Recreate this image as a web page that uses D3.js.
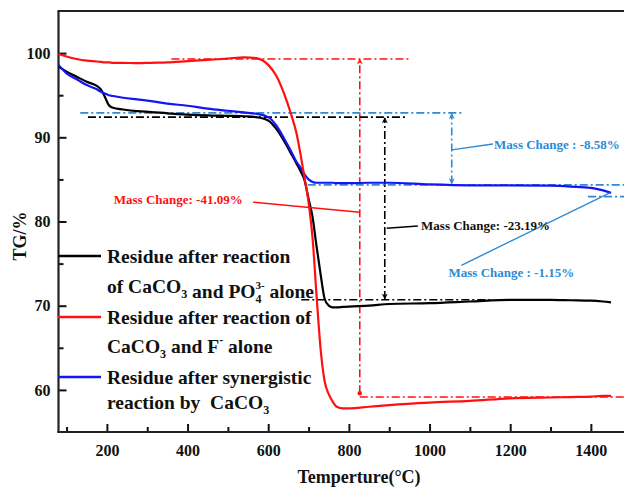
<!DOCTYPE html>
<html>
<head>
<meta charset="utf-8">
<script src="https://cdn.jsdelivr.net/npm/d3@7"></script>
<style>
  body { margin: 0; background: #fff; }
  svg { display: block; }
  text { font-family: "Liberation Serif", "Times New Roman", serif; font-weight: bold; }
</style>
</head>
<body>
<svg id="chart" width="624" height="488"></svg>
<script>
// Temperature grid (°C) shared by the three TG curves
const temperature = [80, 100, 125, 150, 175, 185, 195, 205, 215, 240, 275, 310, 350, 400, 450, 500, 540, 570,
  600, 620, 640, 655, 670, 680, 690, 700, 710, 720, 730, 740, 750, 760, 770, 785, 800, 850, 900, 1000,
  1100, 1200, 1300, 1350, 1400, 1430, 1450];

// TG (%) — residue after reaction of CaCO3 and PO4(3-) alone
const tgPhosphate = [98.4, 97.8, 97.2, 96.6, 96.1, 95.7, 94.8, 93.8, 93.5, 93.3, 93.1, 93.0, 92.85, 92.7, 92.6, 92.55, 92.5, 92.4,
  92.0, 91.0, 89.5, 88.2, 86.9, 86.0, 84.9, 82.7, 80.5, 77.0, 73.7, 70.8, 70.0, 69.8, 69.8, 69.85, 69.9, 70.0, 70.2, 70.3,
  70.5, 70.7, 70.7, 70.65, 70.6, 70.5, 70.4];

// TG (%) — residue after reaction of CaCO3 and F(-) alone
const tgFluoride = [99.9, 99.6, 99.3, 99.1, 99.0, 98.95, 98.9, 98.9, 98.85, 98.85, 98.8, 98.85, 98.9, 99.05, 99.2, 99.35, 99.5, 99.4,
  98.6, 97.3, 95.1, 93.0, 90.5, 88.0, 85.2, 82.3, 78.0, 71.1, 64.8, 61.0, 59.5, 58.6, 58.0, 57.8, 57.8, 58.0, 58.2, 58.5,
  58.7, 59.0, 59.1, 59.15, 59.2, 59.3, 59.3];

// TG (%) — residue after synergistic reaction by CaCO3
const tgSynergistic = [98.6, 97.6, 96.9, 96.2, 95.7, 95.4, 95.2, 95.0, 94.9, 94.7, 94.5, 94.3, 94.0, 93.75, 93.4, 93.15, 92.95, 92.8,
  92.4, 91.4, 89.8, 88.5, 87.1, 86.4, 85.6, 85.0, 84.7, 84.6, 84.6, 84.6, 84.6, 84.6, 84.55, 84.55, 84.55, 84.6, 84.6, 84.4,
  84.3, 84.3, 84.25, 84.15, 84.0, 83.7, 83.4];

const xMajorTicks = [200, 400, 600, 800, 1000, 1200, 1400];
const xMinorTicks = [100, 300, 500, 700, 900, 1100, 1300, 1500];
const yMajorTicks = [60, 70, 80, 90, 100];
const yMinorTicks = [65, 75, 85, 95];

const massChangeLabels = ["Mass Change: -41.09%", "Mass Change: -23.19%", "Mass Change : -8.58%", "Mass Change : -1.15%"];

const colors = { phosphate: "#000000", fluoride: "#ff1010", synergistic: "#1414f5", note: "#2e8ad3" };

const svg = d3.select("#chart");
svg.append("rect").attr("width", 624).attr("height", 488).attr("fill", "#fff");

const x = d3.scaleLinear().domain([80, 1500]).range([58.5, 631.2]);
const y = d3.scaleLinear().domain([55, 105]).range([432, 11]);

// markers for the annotation arrows
const defs = svg.append("defs");
function arrowMarker(id, color) {
  defs.append("marker").attr("id", id).attr("viewBox", "0 0 10 10")
    .attr("refX", 9).attr("refY", 5).attr("markerWidth", 6).attr("markerHeight", 6)
    .attr("markerUnits", "userSpaceOnUse")
    .attr("orient", "auto-start-reverse")
    .append("path").attr("d", "M0,0 L10,5 L0,10 L3,5 Z").attr("fill", color);
}
arrowMarker("arrowRed", colors.fluoride);
arrowMarker("arrowBlack", colors.phosphate);
arrowMarker("arrowBlue", colors.note);

// axes
const axisFont = g => g.selectAll("text").attr("font-size", 16).attr("fill", "#111")
  .style("font-family", "'Liberation Serif', serif").style("font-weight", "bold");

const xAxis = svg.append("g").attr("transform", `translate(0,${y(55)})`)
  .call(d3.axisBottom(x).tickValues(xMajorTicks).tickSize(-8).tickSizeOuter(0).tickPadding(13).tickFormat(d3.format("d")))
  .call(axisFont);
xAxis.select(".domain").remove();
svg.append("g").attr("transform", `translate(0,${y(55)})`)
  .call(d3.axisBottom(x).tickValues(xMinorTicks).tickSize(-5).tickFormat(""))
  .call(g => g.select(".domain").remove());

const yAxis = svg.append("g").attr("transform", `translate(${x(80)},0)`)
  .call(d3.axisLeft(y).tickValues(yMajorTicks).tickSize(-8).tickSizeOuter(0).tickPadding(8).tickFormat(d3.format("d")))
  .call(axisFont);
yAxis.select(".domain").remove();
svg.append("g").attr("transform", `translate(${x(80)},0)`)
  .call(d3.axisLeft(y).tickValues(yMinorTicks).tickSize(-5).tickFormat(""))
  .call(g => g.select(".domain").remove());
svg.selectAll(".tick line").attr("stroke", "#111").attr("stroke-width", 2);

// plot frame (left, bottom, top)
const frame = svg.append("g").attr("stroke", "#222").attr("stroke-width", 2.2).attr("fill", "none");
frame.append("line").attr("x1", x(80)).attr("x2", x(80)).attr("y1", y(105)).attr("y2", y(55) + 1);
frame.append("line").attr("x1", x(80) - 1).attr("x2", 624).attr("y1", y(55)).attr("y2", y(55));
frame.append("line").attr("x1", x(80) - 1).attr("x2", 624).attr("y1", y(105)).attr("y2", y(105));

// axis titles
svg.append("text").attr("transform", `translate(26,236) rotate(-90)`)
  .attr("text-anchor", "middle").attr("font-size", 18).attr("fill", "#111").text("TG/%");
svg.append("text").attr("x", 359).attr("y", 483)
  .attr("text-anchor", "middle").attr("font-size", 18).attr("fill", "#111").text("Temperture(°C)");

// annotation guides
const dashDot = "8,3,2,3";
const guides = svg.append("g").attr("fill", "none").attr("stroke-width", 1.6);
function hGuide(t1, t2, v, color) {
  guides.append("line").attr("x1", x(t1)).attr("x2", x(t2)).attr("y1", y(v)).attr("y2", y(v))
    .attr("stroke", color).attr("stroke-dasharray", dashDot);
}
function vArrow(t, v1, v2, color, marker, both) {
  const l = guides.append("line").attr("x1", x(t)).attr("x2", x(t)).attr("y1", y(v1)).attr("y2", y(v2))
    .attr("stroke", color).attr("stroke-dasharray", dashDot)
    .attr("marker-end", `url(#${marker})`);
  if (both) l.attr("marker-start", `url(#${marker})`);
}

// CaCO3 + F-
hGuide(360, 950, 99.3, colors.fluoride);
hGuide(827, 1500, 59.15, colors.fluoride);
vArrow(827, 59.6, 99.3, colors.fluoride, "arrowRed", false);
svg.append("circle").attr("cx", x(827)).attr("cy", y(59.6)).attr("r", 2.2).attr("fill", colors.fluoride);

// CaCO3 + PO4(3-)
hGuide(153, 943, 92.4, colors.phosphate);
hGuide(682, 1150, 70.7, colors.phosphate);
vArrow(889, 70.8, 92.3, colors.phosphate, "arrowBlack", true);

// synergistic
hGuide(134, 1080, 92.9, colors.note);
hGuide(698, 1500, 84.35, colors.note);
hGuide(1393, 1500, 82.95, colors.note);
vArrow(1055, 84.5, 92.8, colors.note, "arrowBlue", true);

// TG curves
const line = d3.line().x(d => x(d[0])).y(d => y(d[1])).curve(d3.curveMonotoneX);
const curves = [
  { values: tgPhosphate, color: colors.phosphate },
  { values: tgSynergistic, color: colors.synergistic },
  { values: tgFluoride, color: colors.fluoride }
];
curves.forEach(c => {
  svg.append("path").datum(temperature.map((t, i) => [t, c.values[i]]))
    .attr("d", line).attr("fill", "none").attr("stroke", c.color)
    .attr("stroke-width", 2.2).attr("stroke-linejoin", "round");
});

// leader lines and mass-change labels
const leaders = svg.append("g").attr("stroke-width", 1.4);
function leader(t1, v1, t2, v2, color) {
  leaders.append("line").attr("x1", x(t1)).attr("y1", y(v1)).attr("x2", x(t2)).attr("y2", y(v2)).attr("stroke", color);
}
leader(562, 82.3, 827, 81.1, colors.fluoride);
leader(894, 79.2, 971, 79.47, colors.phosphate);
leader(1055, 88.5, 1157, 89.2, colors.note);
leader(1447, 83.4, 1079, 74.8, colors.note);

const noteText = (t, v, s, color, anchor) => svg.append("text").attr("x", x(t)).attr("y", y(v))
  .attr("font-size", 13).attr("fill", color).attr("text-anchor", anchor || "start").text(s);
noteText(217, 82.1, massChangeLabels[0], colors.fluoride);
noteText(979, 79.0, massChangeLabels[1], "#111");
noteText(1160, 88.65, massChangeLabels[2], colors.note);
noteText(1047, 73.4, massChangeLabels[3], colors.note);

// legend
const legendItems = [
  { color: colors.phosphate, lineY: 256, rows: [
      { y: 263, parts: [["Residue after reaction"]] },
      { y: 293, parts: [["of CaCO"], ["3", "sub"], [" and PO"], ["4", "sub"], ["3-", "supback"], [" alone", "reset"]] }
  ]},
  { color: colors.fluoride, lineY: 317, rows: [
      { y: 324, parts: [["Residue after reaction of"]] },
      { y: 353, parts: [["CaCO"], ["3", "sub"], [" and F", "reset"], ["-", "sup"], [" alone", "resetsup"]] }
  ]},
  { color: colors.synergistic, lineY: 377, rows: [
      { y: 384, parts: [["Residue after synergistic"]] },
      { y: 409, parts: [["reaction by  CaCO"], ["3", "sub"]] }
  ]}
];
const legend = svg.append("g");
legendItems.forEach(item => {
  legend.append("line").attr("x1", 58).attr("x2", 101).attr("y1", item.lineY).attr("y2", item.lineY)
    .attr("stroke", item.color).attr("stroke-width", 2.4);
  item.rows.forEach(row => {
    const t = legend.append("text").attr("x", 107).attr("y", row.y).attr("font-size", 19.5)
      .attr("fill", "#111").attr("xml:space", "preserve").style("white-space", "pre");
    row.parts.forEach(([s, kind]) => {
      const sp = t.append("tspan").text(s);
      if (kind === "sub") sp.attr("font-size", 12).attr("dy", 5);
      else if (kind === "supback") sp.attr("font-size", 11).attr("dx", -6).attr("dy", -14);
      else if (kind === "sup") sp.attr("font-size", 12).attr("dy", -9);
      else if (kind === "reset") sp.attr("dy", kind === "reset" && s === " alone" ? 9 : -5);
      else if (kind === "resetsup") sp.attr("dy", 9);
    });
  });
});
</script>
</body>
</html>
